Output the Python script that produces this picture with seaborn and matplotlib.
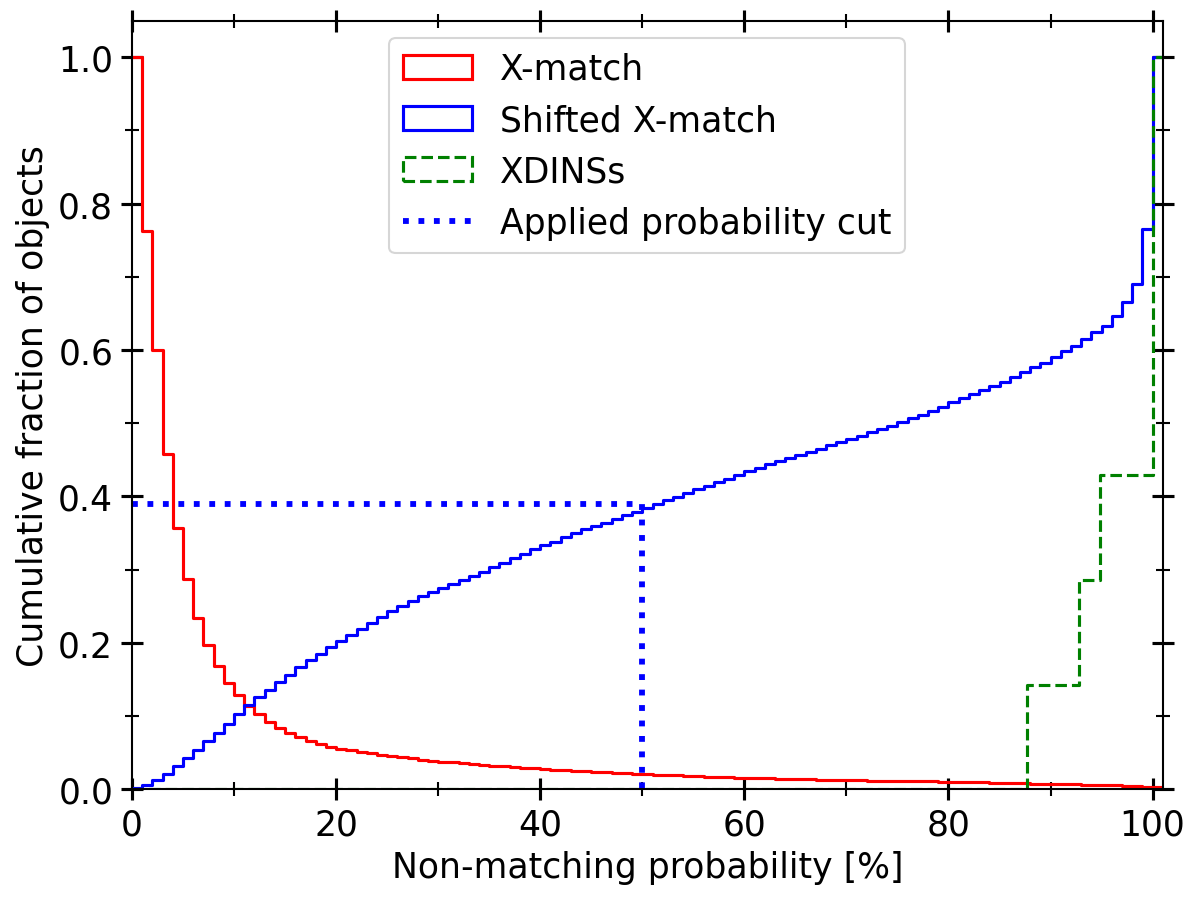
import numpy as np
import pandas as pd
import matplotlib
matplotlib.use("Agg")
import matplotlib.pyplot as plt
from matplotlib.patches import Patch
from matplotlib.lines import Line2D
from matplotlib.ticker import MultipleLocator
import seaborn as sns

# ---------------- data ----------------
bin_edges = list(range(0, 102))  # 1 % wide bins from 0 to 101

xmatch_frac = [
    1.000, 0.762, 0.600, 0.458, 0.357, 0.287, 0.234, 0.197, 0.168, 0.145,
    0.128, 0.114, 0.102, 0.092, 0.084, 0.077, 0.071, 0.066, 0.062, 0.058,
    0.055, 0.053, 0.051, 0.049, 0.047, 0.045, 0.0435, 0.042, 0.0405, 0.039,
    0.0377, 0.0365, 0.0353, 0.0342, 0.0331, 0.032, 0.031, 0.030, 0.0292, 0.0283,
    0.0275, 0.0267, 0.026, 0.0252, 0.0245, 0.0238, 0.0231, 0.0224, 0.0218, 0.0212,
    0.0206, 0.020, 0.0194, 0.0188, 0.0183, 0.0178, 0.0172, 0.0167, 0.0162, 0.0157,
    0.0152, 0.0149, 0.0146, 0.0143, 0.014, 0.0137, 0.0134, 0.0131, 0.0128, 0.0125,
    0.0123, 0.0121, 0.0118, 0.0116, 0.0114, 0.0112, 0.011, 0.0107, 0.0105, 0.0103,
    0.010, 0.0097, 0.0094, 0.0091, 0.0088, 0.0085, 0.0082, 0.0079, 0.0077, 0.0074,
    0.0072, 0.0069, 0.0066, 0.0063, 0.006, 0.0056, 0.0052, 0.0047, 0.0042, 0.0036,
    0.003,
]

shifted_frac = [
    0.0016, 0.0062, 0.013, 0.0208, 0.0312, 0.0422, 0.054, 0.0659, 0.0769, 0.0896,
    0.1023, 0.1147, 0.1256, 0.1361, 0.1461, 0.1562, 0.1666, 0.1762, 0.1849, 0.194,
    0.2022, 0.210, 0.2182, 0.2273, 0.235, 0.2428, 0.2501, 0.2565, 0.2637, 0.2692,
    0.2747, 0.2802, 0.2857, 0.2911, 0.2971, 0.304, 0.3094, 0.3162, 0.3217, 0.3276,
    0.3331, 0.3382, 0.344, 0.3495, 0.355, 0.3595, 0.3641, 0.3696, 0.3746, 0.379,
    0.384, 0.3892, 0.3947, 0.3997, 0.4052, 0.4097, 0.4142, 0.4193, 0.4243, 0.4293,
    0.4343, 0.4394, 0.4444, 0.4486, 0.4528, 0.457, 0.4612, 0.4654, 0.4696, 0.4739,
    0.4781, 0.4827, 0.4873, 0.4918, 0.4963, 0.5018, 0.5068, 0.5114, 0.5169, 0.5228,
    0.5283, 0.5338, 0.5397, 0.5452, 0.551, 0.5557, 0.5625, 0.5693, 0.5762, 0.582,
    0.5899, 0.598, 0.6058, 0.6149, 0.6241, 0.6331, 0.6468, 0.666, 0.690, 0.766,
    1.000,
]

xdins_edges = [0.0, 87.7, 92.8, 94.8, 100.0, 101.0]
xdins_frac = [0.0, 1 / 7, 2 / 7, 3 / 7, 1.0]

cut_prob = 50.0
cut_frac = 0.389

labels = ["X-match", "Shifted X-match", "XDINSs", "Applied probability cut"]

# ---------------- plot ----------------
FS = 16.6
plt.rcParams["font.family"] = ["DejaVu Sans"]
plt.rcParams["font.size"] = FS

fig, ax = plt.subplots(figsize=(8, 6.0133), dpi=150)
fig.subplots_adjust(left=0.110, right=0.969, bottom=0.124, top=0.976)

edges = [float(e) for e in bin_edges]
centers = [0.5 * (a + b) for a, b in zip(edges[:-1], edges[1:])]

df_red = pd.DataFrame({"p": centers, "w": xmatch_frac})
df_blue = pd.DataFrame({"p": centers, "w": shifted_frac})
g_centers = [0.5 * (a + b) for a, b in zip(xdins_edges[:-1], xdins_edges[1:])]
df_green = pd.DataFrame({"p": g_centers, "w": xdins_frac})

sns.histplot(data=df_red, x="p", weights="w", bins=edges, element="step",
             fill=False, color="red", linewidth=1.5, ax=ax)
sns.histplot(data=df_blue, x="p", weights="w", bins=edges, element="step",
             fill=False, color="blue", linewidth=1.5, ax=ax)
sns.histplot(data=df_green, x="p", weights="w", bins=list(xdins_edges), element="step",
             fill=False, color="green", linewidth=1.5, linestyle="--", ax=ax)

df_cut = pd.DataFrame({"x": [0.0, cut_prob, cut_prob], "y": [cut_frac, cut_frac, 0.0]})
sns.lineplot(data=df_cut, x="x", y="y", sort=False, estimator=None,
             color="blue", linestyle=":", linewidth=2.8, ax=ax)

ax.set_xlim(0, 101)
ax.set_ylim(0, 1.05)
ax.set_xlabel("Non-matching probability [%]", fontsize=FS)
ax.set_ylabel("Cumulative fraction of objects", fontsize=FS)

ax.xaxis.set_major_locator(MultipleLocator(20))
ax.xaxis.set_minor_locator(MultipleLocator(10))
ax.yaxis.set_major_locator(MultipleLocator(0.2))
ax.yaxis.set_minor_locator(MultipleLocator(0.1))
ax.tick_params(which="both", direction="inout", top=True, right=True,
               labelsize=FS)
ax.tick_params(which="major", length=11, width=1.5)
ax.tick_params(which="minor", length=7, width=1.0)
for s in ax.spines.values():
    s.set_linewidth(1.0)

handles = [
    Patch(facecolor="none", edgecolor="red", linewidth=1.5),
    Patch(facecolor="none", edgecolor="blue", linewidth=1.5),
    Patch(facecolor="none", edgecolor="green", linewidth=1.5, linestyle="--"),
    Line2D([], [], color="blue", linestyle=":", linewidth=2.8),
]
ax.legend(handles, labels, loc="upper center", fontsize=FS)

fig.savefig("out.png", dpi=150)
